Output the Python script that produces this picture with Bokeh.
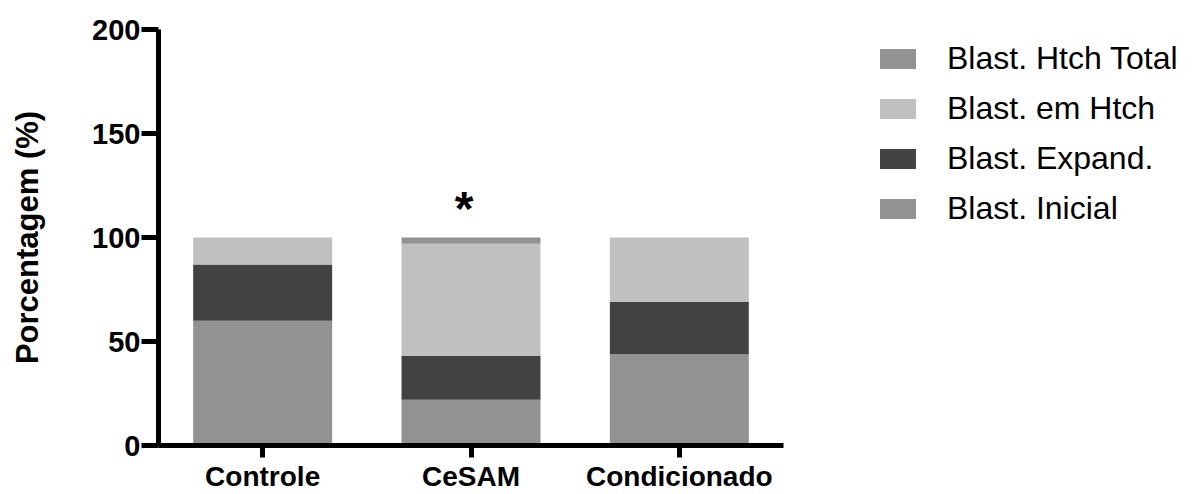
from bokeh.plotting import figure
from bokeh.layouts import row
from bokeh.models import FactorRange, Range1d, FixedTicker, Legend, LegendItem, ColumnDataSource
from bokeh.core.properties import value
from bokeh.embed import file_html
from bokeh.resources import INLINE

categories = ["Controle", "CeSAM", "Condicionado"]
inicial = [60, 22, 44]
expand = [27, 21, 25]
em_htch = [13, 54, 31]
htch_total = [0, 3, 0]

series_names = ["Blast. Inicial", "Blast. Expand.", "Blast. em Htch", "Blast. Htch Total"]
series_colors = ["#929292", "#424242", "#c0c0c0", "#929292"]
y_ticks = [0, 50, 100, 150, 200]

star_category = "CeSAM"
star_y = 114

FONT = "Liberation Sans"
stack_fields = ["inicial", "expand", "em_htch", "htch_total"]

src = ColumnDataSource(dict(cat=categories, inicial=inicial, expand=expand,
                            em_htch=em_htch, htch_total=htch_total))

p = figure(x_range=FactorRange(factors=categories, range_padding=0),
           y_range=Range1d(0, 200),
           width=790, height=494, output_backend="svg", toolbar_location=None,
           min_border_left=158, min_border_right=7, min_border_top=29, min_border_bottom=40)

stack = p.vbar_stack(stack_fields, x="cat", width=0.667,
                     color=series_colors, line_color=None, source=src)

p.text(x=[star_category], y=[star_y], text=["*"], x_offset=-7,
       text_font=value(FONT), text_font_style="bold", text_font_size="48px",
       text_align="center", text_baseline="alphabetic", text_color="#000000")

p.xgrid.visible = False
p.ygrid.visible = False
p.outline_line_color = None

p.yaxis.ticker = FixedTicker(ticks=y_ticks)
p.yaxis.axis_label = "Porcentagem (%)"
p.yaxis.axis_label_text_font = FONT
p.yaxis.axis_label_text_font_style = "bold"
p.yaxis.axis_label_text_font_size = "31px"
p.yaxis.axis_label_text_color = "#000000"
p.yaxis.axis_label_standoff = 44
p.yaxis.major_label_text_font = FONT
p.yaxis.major_label_text_font_style = "bold"
p.yaxis.major_label_text_font_size = "29px"
p.yaxis.major_label_text_color = "#000000"
p.yaxis.major_label_standoff = 1
p.yaxis.major_tick_out = 17
p.yaxis.major_tick_in = 0
p.yaxis.minor_tick_line_color = None

p.xaxis.major_label_text_font = FONT
p.xaxis.major_label_text_font_style = "bold"
p.xaxis.major_label_text_font_size = "28px"
p.xaxis.major_label_text_color = "#000000"
p.xaxis.major_label_standoff = 3
p.xaxis.major_tick_out = 12
p.xaxis.major_tick_in = 0

for ax in (p.xaxis, p.yaxis):
    ax.axis_line_width = 5
    ax.axis_line_color = "#000000"
    ax.major_tick_line_width = 5
    ax.major_tick_line_color = "#000000"

# legend panel: same stacked bars, muted to full transparency so only the legend shows
p2 = figure(x_range=FactorRange(factors=categories), y_range=Range1d(0, 200),
            width=402, height=494, output_backend="svg", toolbar_location=None,
            x_axis_location=None, y_axis_location=None,
            min_border_left=0, min_border_right=0, min_border_top=0, min_border_bottom=0)
p2.xgrid.visible = False
p2.ygrid.visible = False
p2.outline_line_color = None

leg_renderers = p2.vbar_stack(stack_fields, x="cat", width=0.667,
                              color=series_colors, line_color=None, source=src,
                              muted_alpha=0)
for r in leg_renderers:
    r.muted = True

items = [LegendItem(label=series_names[i], renderers=[leg_renderers[i]]) for i in [3, 2, 1, 0]]
legend = Legend(items=items, location=(85, 218), border_line_color=None,
                background_fill_alpha=0, padding=0, margin=0,
                glyph_width=45, glyph_height=25, label_height=36, spacing=13,
                label_standoff=27, label_text_font=FONT, label_text_font_size="32px",
                label_text_color="#000000")
p2.add_layout(legend, "center")

layout = row(p, p2, spacing=0)
open("out.html", "w").write(file_html(layout, INLINE))
